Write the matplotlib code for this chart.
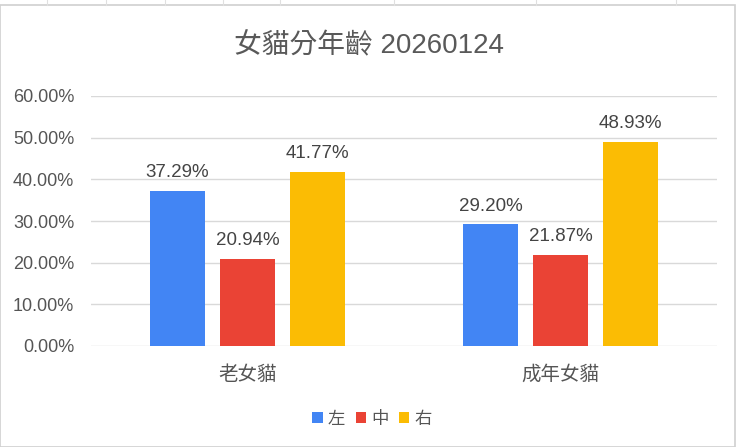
import matplotlib
matplotlib.use("Agg")
import matplotlib.pyplot as plt
import numpy as np
from matplotlib.patches import Rectangle
from matplotlib.lines import Line2D

categories = ["老女貓", "成年女貓"]
series_names = ["左", "中", "右"]
left_vals = [37.29, 29.20]
mid_vals = [20.94, 21.87]
right_vals = [41.77, 48.93]
colors = ["#4285F4", "#EA4335", "#FBBC04"]
yticks = [0, 10, 20, 30, 40, 50, 60]

fam = ["Liberation Sans", "Noto Sans CJK TC", "DejaVu Sans"]
plt.rcParams["font.family"] = fam

fig = plt.figure(figsize=(7.4, 4.47), dpi=100)
fig.patch.set_facecolor("white")

# spreadsheet-like frame
fig.add_artist(Rectangle((0.0, 0.0), 0.993, 0.989, transform=fig.transFigure,
                         fill=False, edgecolor="#d0d0d0", linewidth=1.2))
for xp in [47, 106, 165, 223, 280, 394, 536, 676]:
    fig.add_artist(Line2D([xp / 740, xp / 740], [0.989, 1.0], transform=fig.transFigure,
                          color="#e0e0e0", linewidth=0.8))

ax = fig.add_axes([91 / 740, 1 - 346 / 447, (717 - 91) / 740, (346 - 96) / 447])
x = np.arange(len(categories))
w = 0.176
step = 0.224
all_vals = [left_vals, mid_vals, right_vals]
for i, (vals, c, name) in enumerate(zip(all_vals, colors, series_names)):
    xs = x + (i - 1) * step
    ax.bar(xs, vals, width=w, color=c, label=name, zorder=3)
    for xi, v in zip(xs, vals):
        ax.annotate(f"{v:.2f}%", (xi, v), xytext=(0, 7), textcoords="offset points",
                    ha="center", va="bottom", fontsize=13.5, color="#444444")

ax.set_xlim(-0.5, 1.5)
ax.set_ylim(0, 60)
ax.set_yticks(yticks)
ax.set_yticklabels([f"{t:.2f}%" for t in yticks], fontsize=13, color="#555555")
ax.set_xticks(x)
ax.set_xticklabels(categories, fontsize=14, color="#555555")
ax.tick_params(axis="y", length=0, pad=12)
ax.tick_params(axis="x", length=0, pad=14)
ax.grid(axis="y", color="#d9d9d9", linewidth=1, zorder=0)
for s in ax.spines.values():
    s.set_visible(False)

fig.text(369 / 740, 1 - 46 / 447, "女貓分年齡 20260124", ha="center", va="center",
         fontsize=20, color="#595959")

leg = fig.legend(loc="center", bbox_to_anchor=(372 / 740, 1 - 419 / 447), ncol=3,
                 frameon=False, fontsize=12.5, handlelength=0.6, handleheight=0.6,
                 handletextpad=0.3, columnspacing=0.6)
for t in leg.get_texts():
    t.set_color("#555555")

fig.savefig("out.png", dpi=100, facecolor="white")
